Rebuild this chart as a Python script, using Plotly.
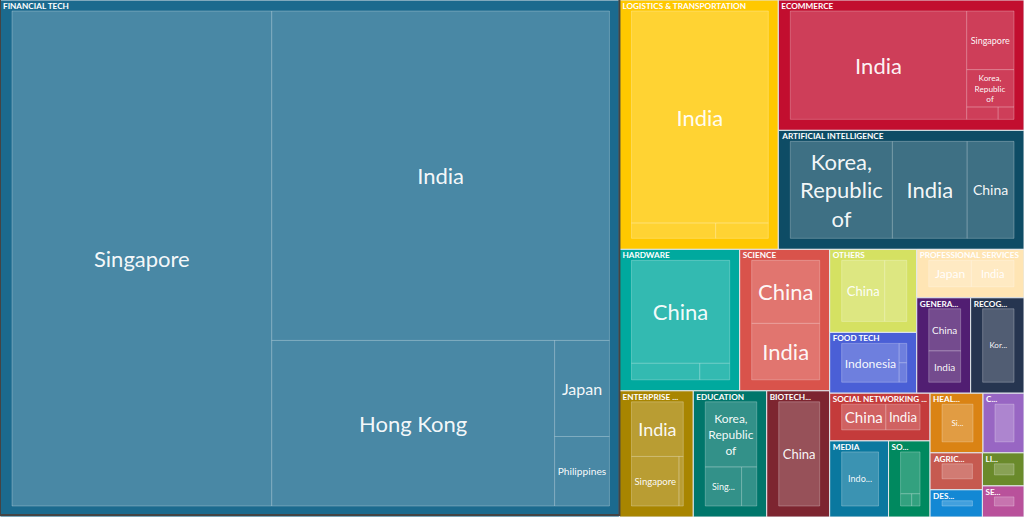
import plotly.graph_objects as go

# ---- data -------------------------------------------------------------
sectors = [
    "Financial Tech", "Logistics & Transportation", "Ecommerce",
    "Artificial Intelligence", "Hardware", "Science", "Others", "Food Tech",
    "Professional Services", "Generative AI", "Recognition Technology",
    "Enterprise Software", "Education", "Biotechnology",
    "Social Networking & Community", "Media", "Software", "Healthcare",
    "Consumer", "Agriculture", "Design", "Lifestyle", "Security",
]
sector_header = [
    "FINANCIAL TECH", "LOGISTICS & TRANSPORTATION", "ECOMMERCE",
    "ARTIFICIAL INTELLIGENCE", "HARDWARE", "SCIENCE", "OTHERS", "FOOD TECH",
    "PROFESSIONAL SERVICES", "GENERA...", "RECOG...", "ENTERPRISE ...",
    "EDUCATION", "BIOTECH...", "SOCIAL NETWORKING ...", "MEDIA", "SO...",
    "HEAL...", "C...", "AGRIC...", "DES...", "LI...", "SE...",
]

child_sector = [
    "Financial Tech", "Financial Tech", "Financial Tech", "Financial Tech", "Financial Tech",
    "Logistics & Transportation", "Logistics & Transportation", "Logistics & Transportation",
    "Ecommerce", "Ecommerce", "Ecommerce", "Ecommerce", "Ecommerce",
    "Artificial Intelligence", "Artificial Intelligence", "Artificial Intelligence",
    "Hardware", "Hardware", "Hardware",
    "Science", "Science",
    "Others", "Others",
    "Food Tech", "Food Tech", "Food Tech",
    "Professional Services", "Professional Services",
    "Generative AI", "Generative AI",
    "Recognition Technology",
    "Enterprise Software", "Enterprise Software", "Enterprise Software",
    "Education", "Education", "Education",
    "Biotechnology",
    "Social Networking & Community", "Social Networking & Community",
    "Media",
    "Software", "Software", "Software",
    "Healthcare",
    "Consumer",
    "Agriculture",
    "Design",
    "Lifestyle",
    "Security",
]
child_country = [
    "Singapore", "India", "Hong Kong", "Japan", "Philippines",
    "India", "Singapore", "Indonesia",
    "India", "Singapore", "Korea, Republic of", "Indonesia", "Japan",
    "Korea, Republic of", "India", "China",
    "China", "Taiwan", "Japan",
    "China", "India",
    "China", "India",
    "Indonesia", "Singapore", "India",
    "Japan", "India",
    "China", "India",
    "Korea, Republic of",
    "India", "Singapore", "Japan",
    "Korea, Republic of", "Singapore", "India",
    "China",
    "China", "India",
    "Indonesia",
    "India", "China", "Singapore",
    "Singapore",
    "China",
    "India",
    "Singapore",
    "Japan",
    "Singapore",
]
child_value = [
    1367, 1183, 498, 56, 40.5,
    363, 16, 10,
    248, 36, 23, 5, 2.5,
    131, 96, 60,
    144, 16, 7,
    66, 59,
    47, 24,
    46, 3, 3,
    25.5, 25.5,
    29, 21.5,
    50,
    48, 40, 3.5,
    57, 24, 10,
    78,
    26.5, 20.5,
    44,
    24, 4, 3,
    31,
    24,
    19,
    14,
    13.5,
    12.7,
]
child_text = [
    "Singapore", "India", "Hong Kong", "Japan", "Philippines",
    "India", "", "",
    "India", "Singapore", "Korea,<br>Republic<br>of", "", "",
    "Korea,<br>Republic<br>of", "India", "China",
    "China", "", "",
    "China", "India",
    "China", "",
    "Indonesia", "", "",
    "Japan", "India",
    "China", "India",
    "Kor...",
    "India", "Singapore", "",
    "Korea,<br>Republic<br>of", "Sing...", "",
    "China",
    "China", "India",
    "Indo...",
    "", "", "",
    "Si...",
    "",
    "",
    "",
    "",
    "",
]

# ---- styles -------------------------------------------------------------
sector_colors = [
    "#1b6a8e", "#ffc800", "#c20e2f", "#0e4c65", "#00a99e", "#d9534b",
    "#d5e162", "#4a5fd6", "#ffe5b4", "#511e72", "#263550", "#a88500",
    "#00766b", "#7d2530", "#c43b3b", "#0a789f", "#00895f", "#da8314",
    "#9866c3", "#c65a50", "#1388d4", "#6a8a2b", "#b9519b",
]
child_font_size = [
    22, 22, 22, 16, 11,
    22, 8, 8,
    22, 9, 9, 8, 8,
    22, 22, 14,
    22, 8, 8,
    22, 22,
    13, 8,
    13, 8, 8,
    12, 11,
    10, 10,
    8,
    18, 10, 8,
    12, 9, 8,
    13,
    17, 14,
    9,
    8, 8, 8,
    8,
    8,
    8,
    8,
    8,
    8,
]
FONT = "Source Sans Pro, Lato, Noto Sans, sans-serif"
VIEW_W, VIEW_H = 1024, 517


def lighten(hex_color, amount=0.2):
    h = hex_color.lstrip("#")
    r, g, b = (int(h[i:i + 2], 16) for i in (0, 2, 4))
    r, g, b = (round(c + (255 - c) * amount) for c in (r, g, b))
    return f"rgb({r},{g},{b})"


color_of = dict(zip(sectors, sector_colors))
sector_total = {s: 0 for s in sectors}
for s, v in zip(child_sector, child_value):
    sector_total[s] += v

n_par, n_ch = len(sectors), len(child_sector)
ids = list(sectors) + [f"{s}/{c}" for s, c in zip(child_sector, child_country)]
parents = [""] * n_par + list(child_sector)
values = [sector_total[s] for s in sectors] + list(child_value)

fill = list(sector_colors) + [lighten(color_of[s]) for s in child_sector]
line_col = ["#e3e8ec"] * n_par + ["rgba(255,255,255,0.25)"] * n_ch
line_w = [1] * n_par + [1] * n_ch

# paddings: tiles trace (frames around children) and header trace
padA = dict(t=11, l=12, r=10, b=11)
padB = dict(t=24, l=3, r=3, b=0)
HEADER_UP = 2                      # header text nudged up a little
E = padB["t"] - padA["t"] + HEADER_UP
FIG_W = VIEW_W + padA["l"] + padA["r"]
FIG_H = E + padA["t"] + VIEW_H + padA["b"]

domA = dict(x=[0, 1], y=[0, 1 - E / FIG_H])
b_top = E + padA["t"] - HEADER_UP - padB["t"]          # = 0
b_bottom = E + padA["t"] + VIEW_H - HEADER_UP + padB["b"]
domB = dict(
    x=[(padA["l"] - padB["l"]) / FIG_W,
       (padA["l"] + VIEW_W + padB["r"]) / FIG_W],
    y=[1 - b_bottom / FIG_H, 1 - b_top / FIG_H],
)

# trace with tiles and leaf labels (sector headers left blank here)
tiles = go.Treemap(
    ids=ids, labels=[""] * n_par + list(child_country),
    parents=parents, values=values,
    branchvalues="total", sort=True,
    text=[""] * n_par + list(child_text), textinfo="text",
    textposition="middle center",
    textfont=dict(family=FONT, color="rgba(255,255,255,0.96)",
                  size=[9] * n_par + list(child_font_size)),
    marker=dict(colors=fill, line=dict(color=line_col, width=line_w),
                pad=padA, depthfade=False),
    tiling=dict(packing="binary", pad=0),
    pathbar=dict(visible=False),
    domain=domA,
    hoverinfo="skip",
)

# transparent overlay carrying the sector headers (top-left, bold)
headers = go.Treemap(
    ids=ids, labels=[f"<b>{h}</b>" for h in sector_header] + list(child_country),
    parents=parents, values=values,
    branchvalues="total", sort=True,
    text=[""] * (n_par + n_ch), textinfo="text",
    textposition="top left",
    textfont=dict(family=FONT, weight="bold", size=8.2, color="white"),
    marker=dict(colors=["rgba(0,0,0,0)"] * len(ids),
                line=dict(width=0), pad=padB, depthfade=False),
    tiling=dict(packing="binary", pad=0),
    pathbar=dict(visible=False),
    domain=domB,
    hoverinfo="skip",
)

fig = go.Figure([tiles, headers])
fig.update_layout(
    width=FIG_W, height=FIG_H,
    margin=dict(l=0, r=0, t=0, b=0),
    paper_bgcolor="white",
    font=dict(family=FONT),
    showlegend=False,
)

# place the plot so the outer treemap padding falls outside the window
shift = ("gd.style.position='absolute';"
         "gd.style.left='-%dpx';gd.style.top='-%dpx';" % (padA["l"], E + padA["t"]))
post = ("var gd=document.getElementById('{plot_id}');"
        "document.documentElement.style.overflow='hidden';"
        "document.body.style.overflow='hidden';document.body.style.margin='0';"
        + shift)
fig.write_html("out.html", post_script=post, config={"displayModeBar": False})
